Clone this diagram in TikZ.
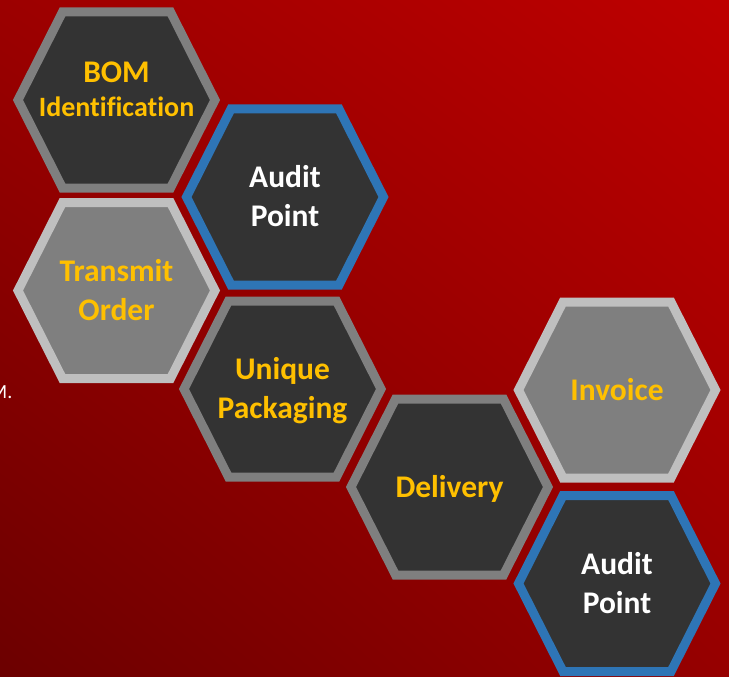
\documentclass[tikz,border=0pt]{standalone}
\usepackage{fontspec}
\setmainfont[Ligatures=CommonOff]{Carlito}
\usetikzlibrary{shadings}
\definecolor{gold}{HTML}{FFC000}
\definecolor{hexdarkfill}{HTML}{333333}
\definecolor{hexgrayfill}{HTML}{7F7F7F}
\definecolor{bordergray}{HTML}{7F7F7F}
\definecolor{borderlight}{HTML}{BFBFBF}
\definecolor{borderblue}{HTML}{2E75B6}
\definecolor{bgul}{RGB}{156,0,0}
\definecolor{bgur}{RGB}{190,0,0}
\definecolor{bgll}{RGB}{108,0,0}
\definecolor{bglr}{RGB}{150,0,0}
\newcommand\hexshape[3]{%
  \draw[#3] (#1-98.5,#2) -- (#1-54,#2-88) -- (#1+54,#2-88) -- (#1+98.5,#2)
     -- (#1+54,#2+88) -- (#1-54,#2+88) -- cycle;}
\tikzset{
  hexbase/.style={line width=9pt, line join=miter},
  hexdark/.style={hexbase, fill=hexdarkfill, draw=bordergray},
  hexlight/.style={hexbase, fill=hexgrayfill, draw=borderlight},
  hexaudit/.style={hexbase, fill=hexdarkfill, draw=borderblue},
  hextext/.style={anchor=base, inner sep=0pt, font=\bfseries\fontsize{31.5}{39}\selectfont},
}
\begin{document}
\begin{tikzpicture}[x=1pt, y=-1pt]
\useasboundingbox (0,0) rectangle (729,677);
\shade[upper left=bgul, upper right=bgur, lower left=bgll, lower right=bglr]
  (0,0) rectangle (729,677);
\node[anchor=base east, inner sep=0pt, text=white, font=\fontsize{20}{24}\selectfont] (stray) at (12.5,398) {M.};
% hexagons
\hexshape{116.5}{100}{hexdark}
\hexshape{285}{197}{hexaudit}
\hexshape{116.5}{290.5}{hexlight}
\hexshape{282.5}{389}{hexdark}
\hexshape{449.5}{487}{hexdark}
\hexshape{617}{390}{hexlight}
\hexshape{617}{583.5}{hexaudit}
% texts
\node[hextext, text=gold] (bom) at (116.5,83)
  {\begin{tabular}[t]{@{}c@{}}BOM\\[-5pt]{\fontsize{28}{34}\selectfont Identification}\end{tabular}};
\node[hextext, text=white] (audit1) at (285,187.5)
  {\begin{tabular}[t]{@{}c@{}}Audit\\Point\end{tabular}};
\node[hextext, text=gold] (transmit) at (116.5,281)
  {\begin{tabular}[t]{@{}c@{}}Transmit\\Order\end{tabular}};
\node[hextext, text=gold] (unique) at (282.5,379.5)
  {\begin{tabular}[t]{@{}c@{}}Unique\\Packaging\end{tabular}};
\node[hextext, text=gold] (delivery) at (449.5,497) {Delivery};
\node[hextext, text=gold] (invoice) at (617,400) {Invoice};
\node[hextext, text=white] (audit2) at (617,574)
  {\begin{tabular}[t]{@{}c@{}}Audit\\Point\end{tabular}};
\end{tikzpicture}
\end{document}
